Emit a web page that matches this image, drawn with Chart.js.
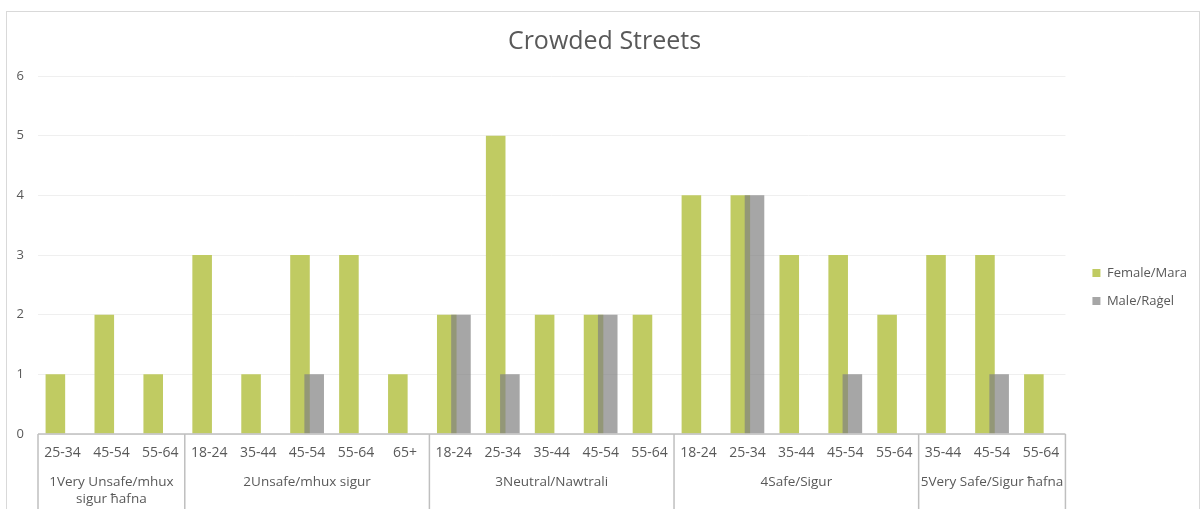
<!DOCTYPE html>
<html>
<head>
<meta charset="utf-8">
<script src="https://cdn.jsdelivr.net/npm/chart.js@4.4.1/dist/chart.umd.min.js"></script>
<style>
  html, body { margin: 0; padding: 0; background: #fff; }
  #wrap { position: relative; width: 1202px; height: 509px; overflow: hidden; }
  #frame { position: absolute; left: 6px; top: 11px; width: 1194px; height: 520px; border: 1px solid #d9d9d9; box-sizing: border-box; pointer-events: none; }
  canvas { position: absolute; left: 0; top: 0; }
</style>
</head>
<body>
<div id="wrap">
  <canvas id="streetsChart" width="1202" height="509"></canvas>
  <div id="frame"></div>
</div>
<script>
// Data
const ageBands = [
  '25-34', '45-54', '55-64',
  '18-24', '35-44', '45-54', '55-64', '65+',
  '18-24', '25-34', '35-44', '45-54', '55-64',
  '18-24', '25-34', '35-44', '45-54', '55-64',
  '35-44', '45-54', '55-64',
];
const groupLabels = [
  ['1Very Unsafe/mhux', 'sigur ħafna'],
  ['2Unsafe/mhux sigur'],
  ['3Neutral/Nawtrali'],
  ['4Safe/Sigur'],
  ['5Very Safe/Sigur ħafna'],
];
const groupSizes = [3, 5, 5, 5, 3];
const femaleCounts = [1, 2, 1, 3, 1, 3, 3, 1, 2, 5, 2, 2, 2, 4, 4, 3, 3, 2, 3, 3, 1];
const maleCounts = [0, 0, 0, 0, 0, 1, 0, 0, 2, 1, 0, 2, 0, 0, 4, 0, 1, 0, 0, 1, 0];
const yTicks = [0, 1, 2, 3, 4, 5, 6];

const FONT = '"Open Sans", sans-serif';
const TEXT = '#595959';
const AXIS = '#bfbfbf';

// Draws the second level of the category axis: separators and group names
const groupAxisPlugin = {
  id: 'groupAxis',
  afterLayout(chart) {
    // nudge the legend and title, like the original
    const lg = chart.legend;
    lg.left += 12;
    lg.right += 12;
    lg.top += 19;
    lg.bottom += 19;
    const tb = chart.titleBlock;
    tb.left += 8;
    tb.right += 8;
  },
  beforeDatasetsDraw(chart) {
    // female first, male on top of it
    const { ctx, chartArea } = chart;
    ctx.save();
    ctx.beginPath();
    ctx.rect(chartArea.left, chartArea.top, chartArea.width, chartArea.height);
    ctx.clip();
    chart.getDatasetMeta(0).controller.draw();
    chart.getDatasetMeta(1).controller.draw();
    ctx.restore();
    return false;
  },
  afterDraw(chart) {
    const { ctx, chartArea } = chart;
    const x = chart.scales.x;
    const bottom = chart.height;
    ctx.save();
    ctx.strokeStyle = AXIS;
    ctx.lineWidth = 1.5;
    ctx.beginPath();
    ctx.moveTo(chartArea.left, chartArea.bottom);
    ctx.lineTo(chartArea.right, chartArea.bottom);
    ctx.stroke();

    const edges = [chartArea.left];
    let start = 0;
    groupSizes.forEach((n) => {
      start += n;
      if (start < ageBands.length) {
        edges.push((x.getPixelForValue(start - 1) + x.getPixelForValue(start)) / 2);
      } else {
        edges.push(chartArea.right);
      }
    });
    edges.forEach((px) => {
      ctx.beginPath();
      ctx.moveTo(px, chartArea.bottom);
      ctx.lineTo(px, bottom);
      ctx.stroke();
    });

    ctx.fillStyle = TEXT;
    ctx.font = '13.5px ' + FONT;
    ctx.textAlign = 'center';
    ctx.textBaseline = 'middle';
    groupLabels.forEach((lines, i) => {
      const cx = (edges[i] + edges[i + 1]) / 2;
      lines.forEach((line, j) => {
        ctx.fillText(line, cx, chartArea.bottom + 48 + j * 17);
      });
    });
    ctx.restore();
  },
};

const ctx = document.getElementById('streetsChart');
const streetsChart = new Chart(ctx, {
  type: 'bar',
  data: {
    labels: ageBands,
    datasets: [
      {
        label: 'Female/Mara',
        data: femaleCounts,
        backgroundColor: '#c0cb62',
        categoryPercentage: 0.58,
        barPercentage: 1.38,
      },
      {
        label: 'Male/Raġel',
        data: maleCounts,
        backgroundColor: 'rgba(128, 128, 128, 0.7)',
        categoryPercentage: 0.58,
        barPercentage: 1.38,
      },
    ],
  },
  options: {
    responsive: false,
    animation: false,
    layout: {
      padding: { top: 27, left: 8, right: 17, bottom: 0 },
    },
    plugins: {
      title: {
        display: true,
        text: 'Crowded Streets',
        color: TEXT,
        font: { family: FONT, size: 25, weight: 'normal' },
        padding: { top: 0, bottom: 19 },
      },
      legend: {
        position: 'right',
        labels: {
          boxWidth: 8,
          boxHeight: 8,
          padding: 15,
          color: TEXT,
          font: { family: FONT, size: 13 },
        },
      },
      tooltip: { enabled: false },
    },
    scales: {
      y: {
        min: 0,
        max: 6,
        afterBuildTicks(scale) {
          scale.ticks = yTicks.map((v) => ({ value: v }));
        },
        afterFit(scale) {
          scale.width = 30;
        },
        ticks: {
          color: TEXT,
          padding: 14,
          font: { family: FONT, size: 13 },
        },
        grid: { color: '#efefef', drawTicks: false },
        border: { display: false },
      },
      x: {
        afterFit(scale) {
          scale.height = 75;
        },
        ticks: {
          color: TEXT,
          padding: 11,
          autoSkip: false,
          maxRotation: 0,
          font: { family: FONT, size: 14 },
        },
        grid: { display: false, drawTicks: false },
        border: { display: false },
      },
    },
  },
  plugins: [groupAxisPlugin],
});
</script>
</body>
</html>
